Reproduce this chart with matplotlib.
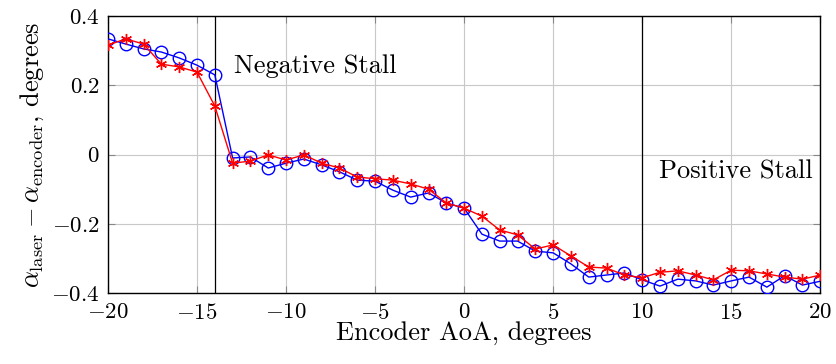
import numpy as np
import matplotlib
matplotlib.use('Agg')
import matplotlib.pyplot as plt

plt.rcParams['font.family'] = 'serif'
plt.rcParams['font.serif'] = ['cmr10']
plt.rcParams['mathtext.fontset'] = 'cm'
plt.rcParams['axes.formatter.use_mathtext'] = True
plt.rcParams['axes.unicode_minus'] = True

aoa = list(range(-20, 21))
laser_circle = [0.334, 0.319, 0.305, 0.296, 0.279, 0.258, 0.230,
                -0.010, -0.007, -0.039, -0.025, -0.013, -0.030, -0.050,
                -0.074, -0.077, -0.103, -0.123, -0.111, -0.140, -0.155,
                -0.230, -0.250, -0.250, -0.279, -0.284, -0.316, -0.354,
                -0.348, -0.342, -0.362, -0.380, -0.360, -0.365, -0.377,
                -0.365, -0.354, -0.383, -0.350, -0.377, -0.366]
laser_star = [0.316, 0.334, 0.319, 0.261, 0.253, 0.238, 0.140,
              -0.025, -0.019, -0.001, -0.016, -0.001, -0.025, -0.039,
              -0.065, -0.070, -0.074, -0.085, -0.100, -0.140, -0.155,
              -0.178, -0.218, -0.232, -0.273, -0.261, -0.293, -0.325,
              -0.328, -0.348, -0.356, -0.340, -0.336, -0.348, -0.362,
              -0.334, -0.336, -0.345, -0.354, -0.360, -0.348]
stall_lines = [-14, 10]

fig = plt.figure(figsize=(8.37, 3.64), dpi=100)
ax = fig.add_axes([0.129, 0.195, 0.851, 0.761])

ax.plot(aoa, laser_circle, color='blue', lw=1, marker='o', ms=9,
        mfc='none', mec='blue', mew=1, zorder=3)
ax.plot(aoa, laser_star, color='red', lw=1, marker=(6, 2, 0), ms=8,
        mec='red', mew=1, zorder=4)
for s in stall_lines:
    ax.axvline(s, color='black', lw=0.9, zorder=2)

ax.text(-12.9, 0.255, 'Negative Stall', fontsize=19, va='center', ha='left')
ax.text(19.6, -0.05, 'Positive Stall', fontsize=19, va='center', ha='right')

ax.set_xlim(-20, 20)
ax.set_ylim(-0.4, 0.4)
ax.set_xticks([-20, -15, -10, -5, 0, 5, 10, 15, 20])
ax.set_yticks([-0.4, -0.2, 0, 0.2, 0.4])
ax.set_yticklabels(['$-0.4$', '$-0.2$', '$0$', '$0.2$', '$0.4$'])
ax.set_xticklabels(['$-20$', '$-15$', '$-10$', '$-5$', '$0$', '$5$', '$10$', '$15$', '$20$'])
ax.grid(True, color='#c8c8c8', lw=0.8, zorder=0)
ax.tick_params(direction='in', top=True, right=True, labelsize=16.5, length=5, color='#888888')
ax.tick_params(axis='x', pad=7)
ax.tick_params(axis='y', pad=6)
ax.set_xlabel('Encoder AoA, degrees', fontsize=19, labelpad=-1)
ax.set_ylabel(r'$\alpha_{\mathrm{laser}} - \alpha_{\mathrm{encoder}}$, degrees', fontsize=19, labelpad=4)
for sp in ax.spines.values():
    sp.set_linewidth(1)

fig.savefig('out.png', dpi=100)
